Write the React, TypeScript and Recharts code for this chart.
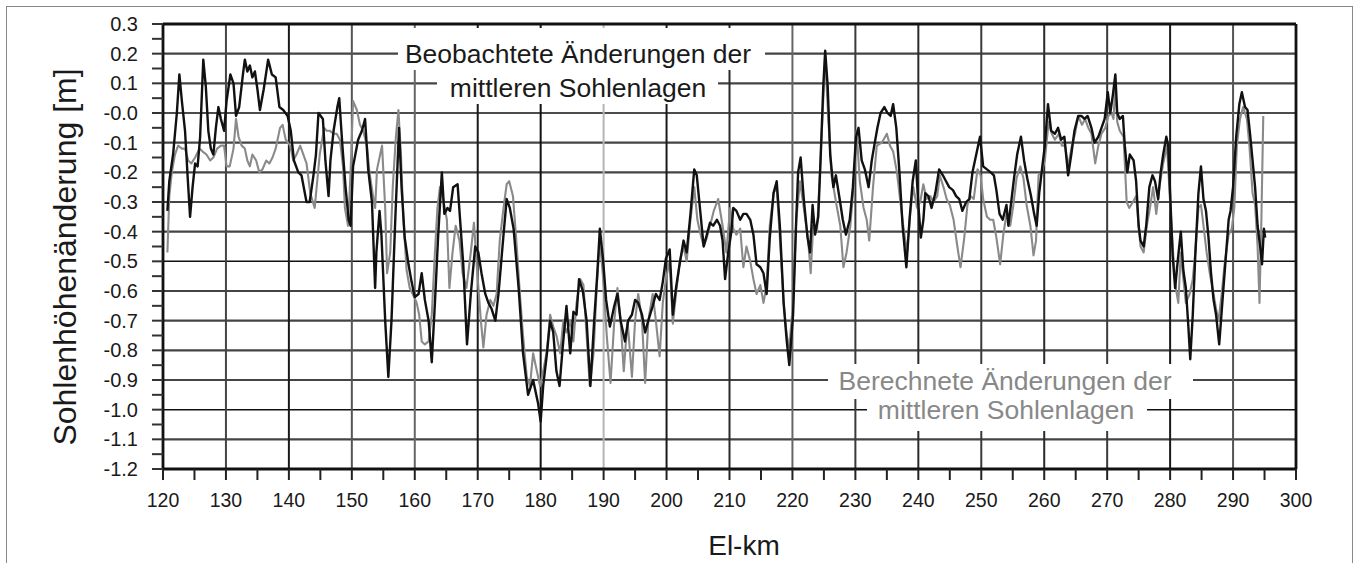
import React from "react";
import { LineChart, Line, XAxis, YAxis, ReferenceLine } from "recharts";

// observed (black) series
const obsKm = [
  120.7, 121.0, 121.6, 122.2, 122.6, 123.0, 123.5, 123.9, 124.3, 124.7, 125.1, 125.5, 125.9, 126.4, 126.8, 127.2, 127.6, 128.0, 128.4, 128.8,
  129.2, 129.7, 130.1, 130.7, 131.2, 131.6, 132.1, 132.7, 133.0, 133.4, 133.8, 134.2, 134.6, 135.0, 135.4, 136.0, 136.7, 137.3, 137.9, 138.5,
  139.1, 139.8, 140.3, 140.8, 141.5, 142.0, 142.8, 143.3, 143.9, 144.3, 144.7, 145.4, 145.8, 146.3, 146.6, 147.1, 147.7, 148.0, 148.5, 149.0,
  149.5, 149.8, 150.2, 151.0, 151.6, 152.1, 152.6, 153.2, 153.7, 153.9, 154.4, 154.7, 155.3, 155.8, 156.3, 156.9, 157.5, 157.9, 158.4, 159.0,
  159.5, 160.0, 160.6, 161.1, 161.6, 162.2, 162.7, 163.2, 163.7, 164.3, 164.7, 165.2, 165.6, 166.1, 166.8, 167.2, 167.7, 168.3, 168.9, 169.6,
  170.1, 170.6, 171.2, 171.7, 172.2, 172.8, 173.3, 174.1, 174.6, 175.1, 175.7, 176.5, 177.2, 178.0, 178.8, 179.6, 180.0, 180.4, 181.0, 181.5,
  182.0, 182.5, 183.0, 183.5, 184.1, 184.7, 185.2, 185.7, 186.1, 186.7, 187.3, 187.9, 188.5, 189.0, 189.4, 189.9, 190.4, 191.0, 191.7, 192.2,
  192.7, 193.4, 193.9, 194.5, 195.0, 195.5, 196.1, 196.6, 197.1, 197.8, 198.3, 198.9, 199.4, 199.9, 200.5, 201.0, 201.5, 202.0, 202.7, 203.2,
  203.8, 204.4, 204.8, 205.3, 205.9, 206.4, 206.9, 207.4, 208.0, 208.5, 208.9, 209.3, 209.8, 210.3, 210.6, 211.1, 211.7, 212.2, 212.7, 213.3,
  213.8, 214.3, 214.9, 215.4, 215.9, 216.4, 217.0, 217.5, 218.0, 218.6, 219.1, 219.5, 220.1, 220.6, 220.9, 221.3, 221.8, 222.4, 222.8, 223.2,
  223.6, 224.1, 224.5, 224.9, 225.2, 225.6, 226.0, 226.5, 226.9, 227.5, 228.0, 228.5, 229.1, 229.6, 230.1, 230.5, 231.0, 231.5, 232.1, 232.6,
  233.0, 233.5, 234.0, 234.6, 235.1, 235.6, 236.0, 236.5, 237.0, 237.5, 238.1, 238.6, 239.1, 239.6, 240.0, 240.4, 240.8, 241.1, 241.6, 242.1,
  242.7, 243.3, 243.9, 244.4, 244.9, 245.5, 246.0, 246.5, 247.0, 247.6, 248.1, 248.6, 249.2, 249.8, 250.3, 250.9, 251.5, 252.0, 252.4, 252.9,
  253.4, 254.0, 254.3, 254.7, 255.2, 255.7, 256.3, 256.8, 257.3, 257.9, 258.4, 258.8, 259.2, 259.7, 260.1, 260.6, 261.1, 261.7, 262.2, 262.7,
  263.2, 263.8, 264.3, 264.8, 265.4, 265.9, 266.4, 266.9, 267.5, 268.0, 268.6, 269.1, 269.6, 270.1, 270.5, 270.9, 271.3, 271.6, 272.0, 272.5,
  272.8, 273.2, 273.6, 274.2, 274.6, 275.0, 275.3, 275.8, 276.2, 276.7, 277.2, 277.6, 278.1, 278.5, 278.9, 279.4, 279.7, 280.0, 280.4, 280.8,
  281.3, 281.7, 282.1, 282.5, 282.9, 283.2, 283.6, 284.0, 284.5, 284.9, 285.3, 285.7, 286.1, 286.5, 286.9, 287.3, 287.8, 288.4, 288.8, 289.3,
  289.6, 290.0, 290.5, 291.0, 291.4, 291.9, 292.3, 292.7, 293.1, 293.5, 293.9, 294.3, 294.6, 294.9, 295.1,
];
const obsVal = [
  -0.33, -0.23, -0.14, 0.0, 0.13, 0.04, -0.06, -0.21, -0.35, -0.25, -0.17, -0.18, -0.08, 0.18, 0.09, -0.06, -0.12, -0.14, -0.05, 0.02,
  -0.02, -0.06, 0.04, 0.13, 0.1, -0.01, 0.02, 0.13, 0.18, 0.14, 0.16, 0.12, 0.14, 0.08, 0.01, 0.08, 0.18, 0.13, 0.12, 0.02,
  0.01, -0.01, -0.06, -0.16, -0.2, -0.21, -0.3, -0.3, -0.21, -0.14, 0.0, -0.02, -0.16, -0.28, -0.16, -0.06, 0.02, 0.05, -0.11, -0.25,
  -0.36, -0.38, -0.18, -0.09, -0.06, -0.02, -0.19, -0.3, -0.59, -0.47, -0.33, -0.41, -0.7, -0.89, -0.7, -0.36, -0.05, -0.25, -0.42, -0.51,
  -0.57, -0.62, -0.61, -0.54, -0.63, -0.7, -0.84, -0.64, -0.42, -0.2, -0.34, -0.32, -0.33, -0.25, -0.24, -0.36, -0.51, -0.78, -0.61, -0.45,
  -0.47, -0.54, -0.61, -0.64, -0.66, -0.7, -0.61, -0.41, -0.29, -0.32, -0.39, -0.59, -0.81, -0.95, -0.9, -0.98, -1.04, -0.92, -0.81, -0.7,
  -0.74, -0.87, -0.92, -0.79, -0.65, -0.81, -0.67, -0.68, -0.56, -0.6, -0.7, -0.92, -0.7, -0.54, -0.39, -0.49, -0.63, -0.72, -0.65, -0.61,
  -0.7, -0.77, -0.7, -0.68, -0.63, -0.64, -0.68, -0.74, -0.7, -0.65, -0.61, -0.63, -0.57, -0.49, -0.46, -0.68, -0.59, -0.52, -0.43, -0.47,
  -0.34, -0.19, -0.21, -0.32, -0.45, -0.41, -0.37, -0.38, -0.36, -0.38, -0.43, -0.56, -0.47, -0.4, -0.32, -0.33, -0.36, -0.34, -0.34, -0.36,
  -0.41, -0.51, -0.52, -0.54, -0.61, -0.42, -0.27, -0.23, -0.38, -0.64, -0.77, -0.85, -0.68, -0.36, -0.2, -0.15, -0.29, -0.42, -0.47, -0.31,
  -0.41, -0.35, -0.14, 0.09, 0.21, 0.09, -0.14, -0.25, -0.21, -0.29, -0.36, -0.41, -0.36, -0.25, -0.08, -0.05, -0.16, -0.19, -0.25, -0.16,
  -0.11, -0.05, 0.0, 0.02, 0.0, -0.01, 0.03, -0.05, -0.2, -0.38, -0.52, -0.36, -0.23, -0.16, -0.31, -0.42, -0.36, -0.27, -0.28, -0.32,
  -0.27, -0.19, -0.21, -0.23, -0.25, -0.26, -0.28, -0.29, -0.33, -0.3, -0.29, -0.2, -0.14, -0.08, -0.18, -0.19, -0.2, -0.21, -0.26, -0.34,
  -0.36, -0.31, -0.38, -0.31, -0.22, -0.14, -0.08, -0.16, -0.22, -0.28, -0.34, -0.38, -0.27, -0.18, -0.11, 0.03, -0.06, -0.07, -0.05, -0.09,
  -0.08, -0.21, -0.14, -0.06, -0.01, -0.01, -0.02, -0.01, -0.05, -0.1, -0.08, -0.05, -0.02, 0.07, 0.0, 0.06, 0.13, 0.0, -0.02, -0.01,
  -0.11, -0.2, -0.14, -0.16, -0.23, -0.38, -0.43, -0.45, -0.38, -0.25, -0.21, -0.23, -0.29, -0.2, -0.14, -0.08, -0.11, -0.27, -0.48, -0.59,
  -0.48, -0.4, -0.53, -0.59, -0.72, -0.83, -0.68, -0.48, -0.27, -0.18, -0.29, -0.33, -0.42, -0.54, -0.63, -0.68, -0.78, -0.61, -0.5, -0.36,
  -0.33, -0.25, -0.08, 0.03, 0.07, 0.02, 0.01, -0.07, -0.16, -0.25, -0.38, -0.45, -0.51, -0.39, -0.42,
];

// computed (grey) series
const calcKm = [
  120.7, 121.0, 121.4, 121.9, 122.4, 123.0, 123.5, 124.0, 124.5, 125.1, 125.8, 126.3, 126.9, 127.5, 128.0, 128.6, 129.2, 129.7, 130.1, 130.6,
  131.2, 131.6, 132.0, 132.5, 133.0, 133.4, 133.8, 134.2, 134.8, 135.3, 135.8, 136.4, 136.9, 137.4, 137.9, 138.6, 139.0, 139.5, 140.2, 140.7,
  141.2, 141.8, 142.3, 142.8, 143.4, 144.1, 144.5, 144.9, 145.6, 146.0, 146.5, 147.1, 147.6, 148.1, 148.6, 148.9, 149.4, 149.8, 150.2, 150.8,
  151.3, 151.8, 152.4, 152.8, 153.3, 153.7, 154.0, 154.5, 154.8, 155.3, 155.6, 156.1, 156.5, 157.0, 157.4, 157.8, 158.2, 158.7, 159.2, 159.9,
  160.3, 160.7, 161.1, 161.6, 162.2, 162.7, 163.2, 163.6, 164.0, 164.5, 165.1, 165.5, 166.0, 166.5, 167.1, 167.6, 168.2, 168.9, 169.4, 169.9,
  170.5, 170.9, 171.4, 172.0, 172.5, 173.0, 173.5, 174.1, 174.6, 175.0, 175.6, 176.1, 176.7, 177.2, 177.8, 178.3, 178.8, 179.4, 179.9, 180.4,
  181.0, 181.5, 182.0, 182.5, 183.1, 183.6, 184.1, 184.7, 185.2, 185.7, 186.3, 186.8, 187.3, 187.8, 188.4, 188.9, 189.4, 189.9, 190.5, 191.1,
  191.7, 192.2, 192.7, 193.2, 193.8, 194.5, 195.0, 195.5, 196.1, 196.6, 197.1, 197.8, 198.3, 198.9, 199.4, 199.9, 200.5, 201.0, 201.6, 202.1,
  202.7, 203.2, 203.7, 204.4, 204.9, 205.3, 205.9, 206.4, 206.9, 207.5, 208.2, 208.9, 209.5, 210.1, 210.6, 211.1, 211.7, 212.2, 212.7, 213.3,
  213.8, 214.3, 214.9, 215.4, 215.9, 216.4, 217.0, 217.5, 218.0, 218.6, 219.1, 219.5, 220.1, 220.6, 221.2, 221.8, 222.5, 222.9, 223.3, 223.9,
  224.4, 225.2, 225.7, 226.2, 227.0, 227.6, 228.1, 228.6, 229.2, 229.7, 230.2, 230.7, 231.3, 231.8, 232.2, 232.8, 233.4, 234.2, 235.0, 235.5,
  236.0, 236.6, 237.1, 237.6, 238.2, 238.7, 239.2, 239.8, 240.3, 240.8, 241.3, 241.9, 242.4, 243.0, 243.4, 244.0, 244.5, 245.0, 245.6, 246.2,
  246.7, 247.3, 247.8, 248.3, 248.8, 249.4, 249.9, 250.3, 250.9, 251.4, 251.9, 252.4, 253.0, 253.5, 254.0, 254.6, 255.1, 255.6, 256.2, 256.7,
  257.2, 257.8, 258.3, 258.7, 259.1, 259.6, 260.1, 260.7, 261.2, 261.7, 262.3, 262.8, 263.3, 263.8, 264.4, 264.9, 265.4, 266.0, 266.5, 267.0,
  267.5, 268.1, 268.6, 269.1, 269.7, 270.2, 270.7, 271.0, 271.3, 271.6, 272.0, 272.6, 273.1, 273.5, 274.1, 274.6, 275.0, 275.3, 275.8, 276.3,
  276.8, 277.3, 277.8, 278.3, 278.9, 279.5, 280.0, 280.5, 280.9, 281.3, 281.7, 282.1, 282.5, 283.1, 283.6, 284.0, 284.5, 284.9, 285.3, 285.8,
  286.3, 286.9, 287.3, 287.7, 288.2, 288.7, 289.3, 289.8, 290.2, 290.6, 291.1, 291.6, 292.2, 292.6, 293.1, 293.5, 293.9, 294.2, 294.5, 294.8,
];
const calcVal = [
  -0.47, -0.28, -0.2, -0.14, -0.11, -0.12, -0.12, -0.16, -0.17, -0.15, -0.12, -0.13, -0.14, -0.16, -0.15, -0.12, -0.11, -0.11, -0.18, -0.18,
  -0.12, -0.02, -0.08, -0.11, -0.12, -0.16, -0.18, -0.14, -0.16, -0.2, -0.19, -0.16, -0.17, -0.15, -0.12, -0.05, -0.04, -0.09, -0.11, -0.16,
  -0.14, -0.11, -0.14, -0.17, -0.27, -0.32, -0.23, -0.14, -0.05, -0.06, -0.06, -0.07, -0.07, -0.09, -0.18, -0.32, -0.38, -0.2, 0.04, 0.01,
  -0.04, -0.06, -0.11, -0.2, -0.27, -0.32, -0.19, -0.14, -0.11, -0.32, -0.54, -0.47, -0.25, -0.08, 0.01, -0.14, -0.36, -0.53, -0.59, -0.62,
  -0.64, -0.68, -0.77, -0.78, -0.77, -0.68, -0.47, -0.32, -0.25, -0.29, -0.36, -0.59, -0.47, -0.38, -0.43, -0.54, -0.59, -0.47, -0.37, -0.53,
  -0.7, -0.79, -0.68, -0.63, -0.65, -0.61, -0.43, -0.32, -0.24, -0.23, -0.28, -0.42, -0.61, -0.75, -0.89, -0.92, -0.81, -0.87, -0.92, -0.87,
  -0.8, -0.68, -0.72, -0.75, -0.81, -0.7, -0.74, -0.7, -0.77, -0.64, -0.56, -0.58, -0.75, -0.92, -0.81, -0.59, -0.43, -0.55, -0.75, -0.91,
  -0.7, -0.59, -0.7, -0.87, -0.7, -0.89, -0.7, -0.61, -0.7, -0.91, -0.7, -0.61, -0.7, -0.82, -0.64, -0.56, -0.5, -0.71, -0.59, -0.5,
  -0.45, -0.5, -0.38, -0.25, -0.36, -0.4, -0.45, -0.42, -0.38, -0.33, -0.29, -0.38, -0.47, -0.32, -0.39, -0.41, -0.39, -0.52, -0.45, -0.5,
  -0.56, -0.61, -0.58, -0.64, -0.58, -0.38, -0.27, -0.25, -0.42, -0.64, -0.75, -0.79, -0.64, -0.36, -0.23, -0.32, -0.43, -0.54, -0.38, -0.4,
  -0.19, 0.19, -0.02, -0.21, -0.31, -0.38, -0.52, -0.47, -0.38, -0.25, -0.06, -0.23, -0.32, -0.36, -0.43, -0.25, -0.11, -0.1, -0.07, -0.11,
  -0.13, -0.2, -0.29, -0.38, -0.47, -0.34, -0.25, -0.32, -0.3, -0.24, -0.29, -0.28, -0.3, -0.28, -0.21, -0.25, -0.29, -0.31, -0.36, -0.45,
  -0.52, -0.42, -0.31, -0.28, -0.29, -0.19, -0.21, -0.29, -0.35, -0.36, -0.36, -0.42, -0.51, -0.41, -0.34, -0.38, -0.31, -0.22, -0.18, -0.22,
  -0.31, -0.38, -0.48, -0.43, -0.21, -0.2, -0.16, -0.03, -0.07, -0.09, -0.07, -0.11, -0.11, -0.18, -0.11, -0.07, -0.01, -0.04, -0.02, -0.05,
  -0.07, -0.17, -0.11, -0.07, -0.05, -0.01, 0.0, -0.02, 0.09, -0.03, -0.06, -0.08, -0.3, -0.32, -0.3, -0.28, -0.38, -0.45, -0.47, -0.38,
  -0.32, -0.25, -0.34, -0.25, -0.17, -0.11, -0.3, -0.48, -0.59, -0.64, -0.47, -0.56, -0.64, -0.61, -0.56, -0.47, -0.32, -0.31, -0.38, -0.47,
  -0.54, -0.61, -0.66, -0.7, -0.61, -0.5, -0.41, -0.39, -0.32, -0.11, -0.02, 0.02, -0.02, -0.11, -0.27, -0.31, -0.45, -0.64, -0.36, -0.01,
];

const xTicks = [
  120, 125, 130, 135, 140, 145, 150, 155, 160, 165, 170, 175, 180, 185, 190, 195, 200, 205, 210, 215, 220, 225, 230, 235, 240, 245, 250, 255,
  260, 265, 270, 275, 280, 285, 290, 295, 300,
];
const yTicks = [
  0.3, 0.25, 0.2, 0.15, 0.1, 0.05, 0, -0.05, -0.1, -0.15, -0.2, -0.25, -0.3, -0.35, -0.4, -0.45, -0.5, -0.55, -0.6, -0.65, -0.7, -0.75, -0.8,
  -0.85, -0.9, -0.95, -1.0, -1.05, -1.1, -1.15, -1.2,
];
const gridX = [130, 140, 150, 160, 170, 180, 190, 200, 210, 220, 230, 240, 250, 260, 270, 280, 290];
const gridY = [0.2, 0.1, 0, -0.1, -0.2, -0.3, -0.4, -0.5, -0.6, -0.7, -0.8, -0.9, -1.0, -1.1];

// scanned grid lines are not all the same tone
const gridXColor: Record<number, string> = {
  130: "#444", 140: "#1a1a1a", 150: "#555", 160: "#666", 170: "#1a1a1a", 180: "#111", 190: "#b5b5b5", 200: "#1a1a1a", 210: "#2a2a2a",
  220: "#666", 230: "#3a3a3a", 240: "#2a2a2a", 250: "#3a3a3a", 260: "#2a2a2a", 270: "#3a3a3a", 280: "#1a1a1a", 290: "#555",
};
const thinY = [0, -0.5, -1.0];

const observed = obsKm.map((km, i) => ({ km, v: obsVal[i] }));
const computed = calcKm.map((km, i) => ({ km, v: calcVal[i] }));

const FONT = "'Liberation Sans', Arial, sans-serif";

const fmtY = (v: number) => {
  const r = Math.round(v * 100);
  if (r % 10 !== 0) return "";
  if (r === 0) return "-0.0";
  return (r / 100).toFixed(1);
};
const fmtX = (v: number) => (v % 10 === 0 ? String(v) : "");

export default function App() {
  return (
    <div style={{ position: "absolute", left: 0, top: 0, width: 1355, height: 563, background: "#fff", overflow: "hidden" }}>
      <div
        style={{
          position: "absolute", left: 6, top: 6, width: 1347, height: 557, boxSizing: "border-box",
          borderLeft: "1.5px solid #888", borderTop: "1.5px solid #888", borderRight: "1.5px solid #888",
        }}
      />
      <div style={{ position: "absolute", left: 0, top: 0 }}>
        <LineChart width={1355} height={563} margin={{ top: 24, right: 59, bottom: 54, left: 0 }}>
          <XAxis
            type="number"
            dataKey="km"
            domain={[120, 300]}
            ticks={xTicks}
            tickFormatter={fmtX}
            interval={0}
            height={40}
            tickSize={11}
            tickMargin={13}
            axisLine={{ stroke: "#111", strokeWidth: 2.8 }}
            tickLine={{ stroke: "#222", strokeWidth: 2 }}
            tick={{ fill: "#1a1a1a", fontSize: 19.5, fontFamily: FONT }}
          />
          <YAxis
            type="number"
            domain={[-1.2, 0.3]}
            ticks={yTicks}
            tickFormatter={fmtY}
            interval={0}
            width={163}
            tickSize={11}
            tickMargin={14}
            axisLine={{ stroke: "#111", strokeWidth: 2.8 }}
            tickLine={{ stroke: "#333", strokeWidth: 2 }}
            tick={{ fill: "#1a1a1a", fontSize: 20, fontFamily: FONT }}
          />
          {gridY.map((v) => (
            <ReferenceLine
              key={"gy" + v}
              y={v}
              stroke={thinY.includes(v) ? "#111" : "#444"}
              strokeWidth={thinY.includes(v) ? 1.5 : 2.2}
            />
          ))}
          {gridX.map((k) => (
            <ReferenceLine key={"gx" + k} x={k} stroke={gridXColor[k]} strokeWidth={2} />
          ))}
          <ReferenceLine y={0.3} stroke="#111" strokeWidth={2.8} />
          <ReferenceLine x={300} stroke="#111" strokeWidth={2.8} />
          <Line
            data={computed}
            dataKey="v"
            type="linear"
            stroke="#8a8a8a"
            strokeWidth={2.1}
            dot={false}
            isAnimationActive={false}
            strokeLinejoin="round"
          />
          <Line
            data={observed}
            dataKey="v"
            type="linear"
            stroke="#111"
            strokeWidth={2.4}
            dot={false}
            isAnimationActive={false}
            strokeLinejoin="round"
          />
        </LineChart>
      </div>
      <svg width={1355} height={563} style={{ position: "absolute", left: 0, top: 0, pointerEvents: "none" }}>
        <rect x={398} y={28} width={367} height={42} fill="#fff" />
        <rect x={437} y={70} width={281} height={34} fill="#fff" />
        <rect x={828} y={364} width={365} height={35} fill="#fff" />
        <rect x={867} y={399} width={280} height={32} fill="#fff" />
        <g fontFamily={FONT} fontSize={26.5} textAnchor="middle">
          <text x={578} y={63} fill="#1a1a1a">Beobachtete Änderungen der</text>
          <text x={578} y={97} fill="#1a1a1a">mittleren Sohlenlagen</text>
          <text x={1005} y={390} fill="#888">Berechnete Änderungen der</text>
          <text x={1006} y={419} fill="#888">mittleren Sohlenlagen</text>
        </g>
        <text x={744} y={555} fontFamily={FONT} fontSize={28} textAnchor="middle" fill="#1a1a1a">El-km</text>
        <text
          transform="translate(76,257) rotate(-90)"
          x={0}
          y={0}
          fontFamily={FONT}
          fontSize={32}
          textAnchor="middle"
          fill="#1a1a1a"
        >
          Sohlenhöhenänderung [m]
        </text>
      </svg>
    </div>
  );
}
